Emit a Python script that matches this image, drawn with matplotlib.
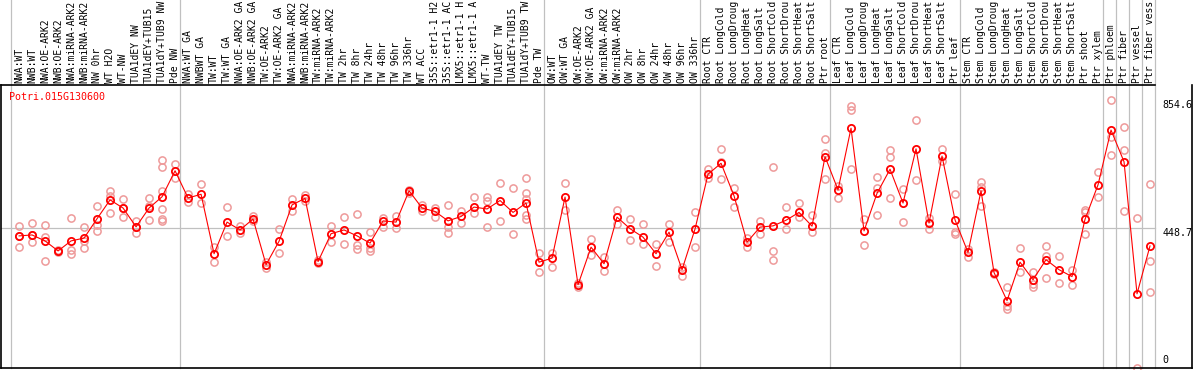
import matplotlib
matplotlib.use("Agg")
import matplotlib.pyplot as plt
import numpy as np

plt.rcParams['font.family'] = 'DejaVu Sans Mono'
plt.rcParams['font.size'] = 7.0

gene = "Potri.015G130600"

# column labels as shown (long names are cut at the top of the image)
labels = [
    "NWA:WT", "NWB:WT", "NWA:OE-ARK2", "NWB:OE-ARK2", "NWA:miRNA-ARK2", "NWB:miRNA-ARK2",
    "NW 0hr", "WT H2O", "WT-NW", "TUA1dEY NW", "TUA1dEY+TUB15", "TUA1dY+TUB9 NW", "Pde NW",
    "NWA:WT GA", "NWBWT GA", "TW:WT", "TW:WT GA", "NWA:OE-ARK2 GA", "NWB:OE-ARK2 GA",
    "TW:OE-ARK2", "TW:OE-ARK2 GA", "NWA:miRNA-ARK2", "NWB:miRNA-ARK2", "TW:miRNA-ARK2",
    "TW:miRNA-ARK2", "TW 2hr", "TW 8hr", "TW 24hr", "TW 48hr", "TW 96hr", "TW 336hr", "WT ACC",
    "35S::etr1-1 H2", "35S::etr1-1 AC", "LMX5::etr1-1 H", "LMX5::etr1-1 A", "WT-TW",
    "TUA1dEY TW", "TUA1dEY+TUB15", "TUA1dY+TUB9 TW", "Pde TW",
    "OW:WT", "OW:WT GA", "OW:OE-ARK2", "OW:OE-ARK2 GA", "OW:miRNA-ARK2", "OW:miRNA-ARK2",
    "OW 2hr", "OW 8hr", "OW 24hr", "OW 48hr", "OW 96hr", "OW 336hr",
    "Root CTR", "Root LongCold", "Root LongDroug", "Root LongHeat", "Root LongSalt",
    "Root ShortCold", "Root ShortDrou", "Root ShortHeat", "Root ShortSalt", "Ptr root",
    "Leaf CTR", "Leaf LongCold", "Leaf LongDroug", "Leaf LongHeat", "Leaf LongSalt",
    "Leaf ShortCold", "Leaf ShortDrou", "Leaf ShortHeat", "Leaf ShortSalt", "Ptr leaf",
    "Stem CTR", "Stem LongCold", "Stem LongDroug", "Stem LongHeat", "Stem LongSalt",
    "Stem ShortCold", "Stem ShortDrou", "Stem ShortHeat", "Stem ShortSalt", "Ptr shoot",
    "Ptr xylem", "Ptr phloem", "Ptr fiber", "Ptr vessel", "Ptr fiber vess",
]

means = [
    422, 425, 406, 374, 406, 415, 477, 537, 511, 451, 511, 547, 630,
    543, 555, 365, 466, 441, 476, 330, 405, 521, 542, 340, 429, 441, 422, 399,
    470, 466, 566, 511, 500, 470, 484, 514, 508, 535, 497, 527, 338,
    351, 546, 266, 386, 333, 482, 445, 418, 365, 434, 314, 444,
    619, 654, 550, 402, 450, 454, 472, 497, 453, 675,
    569, 766, 438, 558, 635, 527, 700, 463, 677, 473,
    369, 566, 305, 215, 338, 282, 346, 314, 292, 475, 585,
    760, 659, 237, 390,
]

reps = [
    [454, 422, 387], [463, 404, 425], [457, 417, 341], [377, 371, 374], [480, 377, 365],
    [452, 406, 383], [518, 457, 438], [566, 548, 495], [540, 482, 511], [471, 431, 451],
    [542, 519, 473], [665, 643, 564, 507, 475, 468], [652, 608],
    [555, 531], [587, 527], [388, 340], [515, 422], [454, 431], [486, 468], [340, 319],
    [444, 367], [539, 500], [553, 532], [346, 335], [454, 401], [482, 397], [491, 393, 380],
    [434, 383, 374], [479, 452], [486, 447], [569, 560], [521, 503], [511, 481],
    [520, 452, 431], [500, 463], [546, 495], [546, 532, 450], [590, 470], [574, 428],
    [606, 558, 539, 489, 475], [367, 308],
    [367, 324], [590, 505], [271, 258], [412, 362], [353, 311], [505, 460], [476, 409],
    [460, 396], [397, 326], [460, 402], [324, 295], [498, 388],
    [636, 606], [699, 659, 603], [575, 514], [415, 388], [471, 428], [641, 374, 345],
    [515, 444], [528, 482], [488, 433], [731, 686, 603],
    [582, 542], [837, 824, 635], [475, 393], [609, 574, 489], [697, 673, 542], [571, 466],
    [791, 601], [479, 444], [699, 662], [555, 436, 428],
    [380, 354], [595, 579, 518], [308, 300], [260, 197, 188], [383, 308], [306, 268, 260],
    [390, 359, 287], [358, 273], [314, 266], [505, 497, 428], [627, 546],
    [854.6, 739, 681], [771, 697, 502], [479, 0], [588, 342, 243],
]

# column index where each tissue block starts
group_starts = [0, 13, 41, 53, 63, 73, 84, 85, 86, 87, 88]
ref_value = 448.7
max_value = 854.6

n = len(labels)
x = np.arange(n) + 0.62
rx = np.concatenate([[xi] * len(r) for xi, r in zip(x, reps)])
ry = np.concatenate(reps)

fig = plt.figure(figsize=(11.94, 3.70), dpi=100)
W, H = 1194, 370
ax = fig.add_axes([1 / W, 2 / H, 1191 / W, 283 / H])
ymax = 904
ax.set_xlim(-0.77, 90.85)
ax.set_ylim(0, ymax)
ax.set_xticks([])
ax.set_yticks([])
for s in ['left', 'bottom', 'right']:
    ax.spines[s].set_color('black')
    ax.spines[s].set_linewidth(1.2)
ax.spines['top'].set_visible(False)

gray = '#c0c0c0'
for g in group_starts:
    ax.axvline(g, ymin=0, ymax=1 + 86 / 283, color=gray, lw=0.9, clip_on=False, zorder=1)
ax.plot([-0.77, 88], [ref_value, ref_value], color=gray, lw=0.9, zorder=1)
ax.plot([-0.77, 88], [ymax, ymax], color='black', lw=1.2, clip_on=False, zorder=3)

ax.plot(rx, ry, 'o', ms=5.2, mfc='none', mec='#ee9a9a', mew=1.1, zorder=2, clip_on=False)
ax.plot(x, means, '-', color='red', lw=0.8, zorder=3)
ax.plot(x, means, 'o', ms=5.2, mfc='none', mec='red', mew=1.3, zorder=4)

for xi, lab in zip(x, labels):
    ax.text(xi, 1 + 2 / 283, lab, rotation=90, ha='center', va='bottom',
            transform=ax.get_xaxis_transform(), clip_on=False)

ax.text(-0.13, 866, gene, color='red', ha='left', va='center', fontsize=7.2)
ax.text(88.6, max_value, f"{max_value}", ha='left', va='top', fontsize=7.2)
ax.text(88.6, ref_value, f"{ref_value}", ha='left', va='top', fontsize=7.2)
ax.text(88.6, 10, "0", ha='left', va='bottom', fontsize=7.2)

fig.savefig("out.png", dpi=100)
